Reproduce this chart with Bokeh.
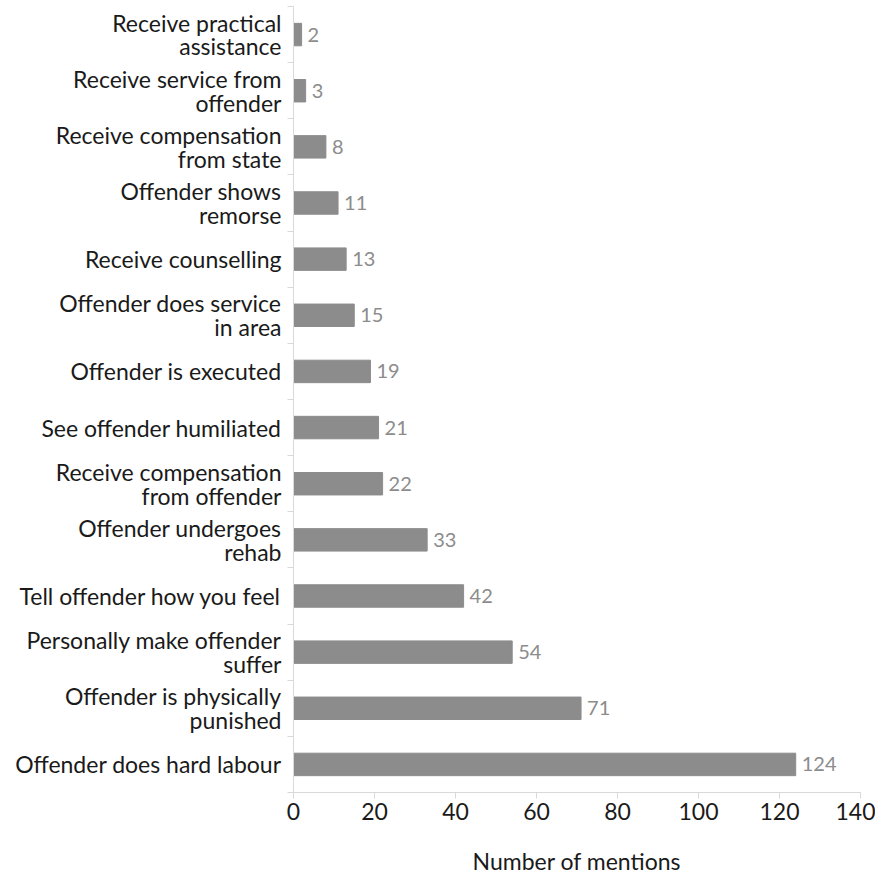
from bokeh.plotting import figure
from bokeh.models import ColumnDataSource, LabelSet, FixedTicker, Range1d
from bokeh.core.properties import value
from bokeh.embed import file_html
from bokeh.resources import INLINE

categories = [
    "Receive practical\nassistance",
    "Receive service from\noffender",
    "Receive compensation\nfrom state",
    "Offender shows\nremorse",
    "Receive counselling",
    "Offender does service\nin area",
    "Offender is executed",
    "See offender humiliated",
    "Receive compensation\nfrom offender",
    "Offender undergoes\nrehab",
    "Tell offender how you feel",
    "Personally make offender\nsuffer",
    "Offender is physically\npunished",
    "Offender does hard labour",
]
mentions = [2, 3, 8, 11, 13, 15, 19, 21, 22, 33, 42, 54, 71, 124]
x_ticks = [0, 20, 40, 60, 80, 100, 120, 140]

FONT = "Lato"
n = len(categories)
ypos = [n - 0.5 - i for i in range(n)]
src = ColumnDataSource(dict(cat=categories, val=mentions, y=ypos,
                            lab=[str(v) for v in mentions]))

p = figure(width=875, height=877, output_backend="svg", toolbar_location=None,
           x_range=Range1d(0, 140), y_range=Range1d(0, n),
           min_border_left=293, min_border_right=15, min_border_top=6, min_border_bottom=83)
p.outline_line_color = None
p.xgrid.visible = False
p.ygrid.visible = False

p.hbar(y="y", right="val", left=0, height=0.4, source=src, color="#8c8c8c")

p.xaxis.ticker = FixedTicker(ticks=x_ticks)
p.xaxis.axis_line_color = "#d9d9d9"
p.xaxis.major_tick_line_color = "#d9d9d9"
p.xaxis.major_tick_out = 6
p.xaxis.major_tick_in = 0
p.xaxis.minor_tick_line_color = None
p.xaxis.major_label_standoff = 4
p.xaxis.major_label_text_font = FONT
p.xaxis.major_label_text_font_size = "23px"
p.xaxis.major_label_text_color = "#1a1a1a"
p.xaxis.axis_label = "Number of mentions"
p.xaxis.axis_label_text_font = FONT
p.xaxis.axis_label_text_font_size = "23px"
p.xaxis.axis_label_text_font_style = "normal"
p.xaxis.axis_label_text_color = "#1a1a1a"
p.xaxis.axis_label_standoff = 24

p.yaxis.ticker = FixedTicker(ticks=ypos, minor_ticks=list(range(n + 1)))
p.yaxis.major_label_overrides = {y: c for y, c in zip(ypos, categories)}
p.yaxis.axis_line_color = "#d9d9d9"
p.yaxis.major_tick_line_color = None
p.yaxis.minor_tick_line_color = "#d9d9d9"
p.yaxis.minor_tick_out = 6
p.yaxis.minor_tick_in = 0
p.yaxis.major_label_standoff = 6
p.yaxis.major_label_text_font = FONT
p.yaxis.major_label_text_font_size = "23px"
p.yaxis.major_label_text_color = "#1a1a1a"
p.yaxis.major_label_text_line_height = 0.85

val_labels = LabelSet(x="val", y="y", text="lab", source=src, x_offset=6,
                      text_align="left", text_baseline="middle",
                      text_font=value(FONT), text_font_size="20px", text_color="#8c8c8c")
p.add_layout(val_labels)

open("out.html", "w").write(file_html(p, INLINE))
